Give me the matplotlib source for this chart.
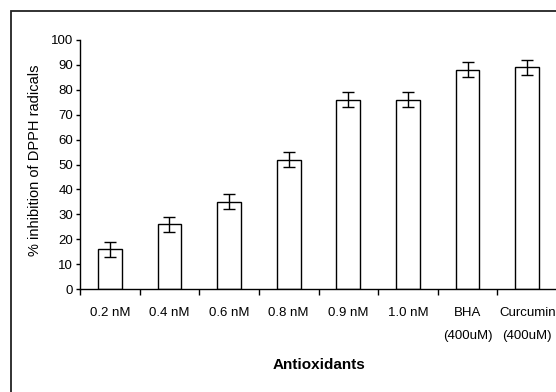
import matplotlib
matplotlib.use("Agg")
import matplotlib.pyplot as plt
from matplotlib.patches import Rectangle
import numpy as np

categories = ["0.2 nM", "0.4 nM", "0.6 nM", "0.8 nM", "0.9 nM", "1.0 nM",
              "BHA\n(400uM)", "Curcumin\n(400uM)"]
values = [16, 26, 35, 52, 76, 76, 88, 89]
errors = [3, 3, 3, 3, 3, 3, 3, 3]
yticks = [0, 10, 20, 30, 40, 50, 60, 70, 80, 90, 100]

plt.rcParams['font.family'] = ['Liberation Sans', 'DejaVu Sans']

W, H = 556, 392
fig = plt.figure(figsize=(W / 100, H / 100), dpi=100)

# outer frame (cropped at right/bottom)
fig.patches.append(Rectangle((11 / W, -0.05), 1.2, (H - 11) / H + 0.05,
                             transform=fig.transFigure, fill=False,
                             edgecolor='#222222', linewidth=1.3))

ax = fig.add_axes([80 / W, (H - 289) / H, (557 - 80) / W, (289 - 40) / H])
x = np.arange(len(categories))
ax.bar(x, values, width=0.4, color='white', edgecolor='black', linewidth=1.0)
ax.errorbar(x, values, yerr=errors, fmt='none', ecolor='black',
            elinewidth=1.0, capsize=4.5, capthick=1.0)

ax.set_xlim(-0.5, len(categories) - 0.5)
ax.set_ylim(0, 100)
ax.set_yticks(yticks)
ax.tick_params(axis='y', direction='out', length=3, width=1, labelsize=9.5, pad=2)

ax.set_xticks(np.arange(len(categories) + 1) - 0.5)
ax.set_xticklabels([])
ax.tick_params(axis='x', which='major', direction='out', length=4, width=1)
ax.set_xticks(x, minor=True)
ax.set_xticklabels(categories, minor=True, fontsize=9.5, linespacing=2.2)
ax.tick_params(axis='x', which='minor', length=0, pad=13)

for s in ['top', 'right']:
    ax.spines[s].set_visible(False)
for s in ['left', 'bottom']:
    ax.spines[s].set_linewidth(1.0)

ax.set_ylabel("% inhibition of DPPH radicals", fontsize=10.5)
ax.yaxis.label.set_va('center')
ax.yaxis.set_label_coords(-(80 - 35) / (557 - 80), 0.5 + (164.5 - 160) / 249)
fig.text(319 / W, 1 - 365 / H, "Antioxidants", fontsize=11, fontweight='bold',
         ha='center', va='center')

fig.savefig("out.png", dpi=100)
